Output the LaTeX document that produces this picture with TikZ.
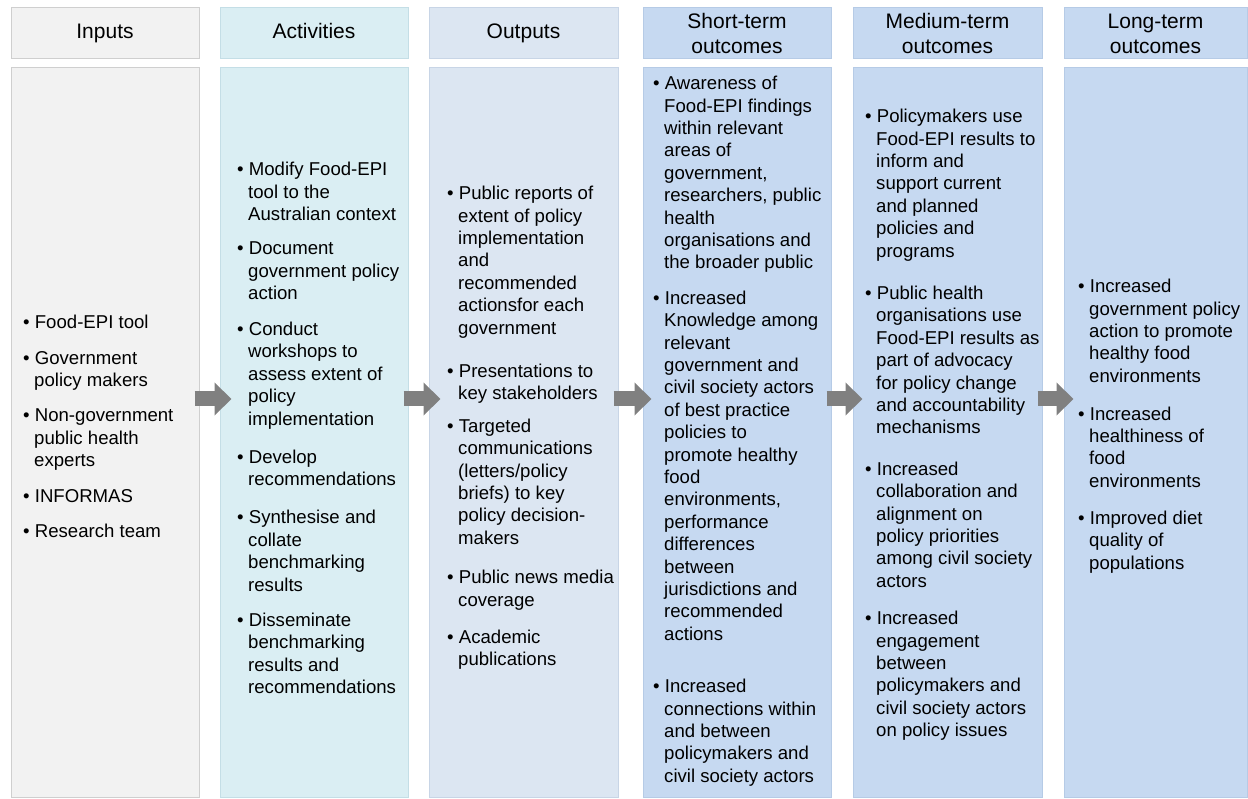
\documentclass[tikz,border=0pt]{standalone}
\usepackage{fontspec}
\setmainfont{Liberation Sans}
\usetikzlibrary{positioning, arrows.meta}

\definecolor{inFill}{HTML}{F2F2F2}
\definecolor{inLine}{HTML}{CFCFCF}
\definecolor{actFill}{HTML}{DAEEF3}
\definecolor{actLine}{HTML}{C4DEE6}
\definecolor{outFill}{HTML}{DCE6F2}
\definecolor{outLine}{HTML}{C8D5E6}
\definecolor{resFill}{HTML}{C6D9F1}
\definecolor{resLine}{HTML}{B6CBE6}
\definecolor{flowGray}{HTML}{808080}

% bullet and hanging indent for the list lines
\newcommand{\bitem}{\textbullet\ }
\newcommand{\bcont}{\hspace*{11pt}}

\begin{document}
\begin{tikzpicture}[x=1pt,y=-1pt,
	hdr/.style={draw, line width=1pt, minimum width=188pt, minimum height=51pt, align=center, inner sep=0pt,
		font=\fontsize{21pt}{25pt}\selectfont},
	panel/.style={draw, line width=1pt, minimum width=188pt, minimum height=729pt, inner sep=0pt},
	txt/.style={anchor=north west, align=left, inner sep=0pt, font=\fontsize{18.6pt}{22.4pt}\selectfont},
	flow/.style={flowGray, line width=15pt, -{Triangle[width=32pt,length=17pt]}}]
	\useasboundingbox (0,0) rectangle (1248,799);

	% column heads
	\node[hdr, fill=inFill,  draw=inLine					] (hIn)		at (105,33.5)	{\strut Inputs};
	\node[hdr, fill=actFill, draw=actLine					] (hAct)	at (314,33.5)	{\strut Activities};
	\node[hdr, fill=outFill, draw=outLine, minimum width=189pt	] (hOut)	at (523.5,33.5)	{\strut Outputs};
	\node[hdr, fill=resFill, draw=resLine					] (hShort)	at (737,33.5)	{Short-term\\outcomes};
	\node[hdr, fill=resFill, draw=resLine, minimum width=189pt	] (hMed)	at (947.5,33.5)	{Medium-term\\outcomes};
	\node[hdr, fill=resFill, draw=resLine, minimum width=183pt	] (hLong)	at (1155.5,33.5)	{Long-term\\outcomes};

	% column bodies
	\node[panel, fill=inFill,  draw=inLine					] (bIn)		at (105,432.5)		{};
	\node[panel, fill=actFill, draw=actLine					] (bAct)	at (314,432.5)		{};
	\node[panel, fill=outFill, draw=outLine, minimum width=189pt	] (bOut)	at (523.5,432.5)	{};
	\node[panel, fill=resFill, draw=resLine					] (bShort)	at (737,432.5)		{};
	\node[panel, fill=resFill, draw=resLine, minimum width=189pt	] (bMed)	at (947.5,432.5)	{};
	\node[panel, fill=resFill, draw=resLine, minimum width=183pt	] (bLong)	at (1155.5,432.5)	{};

	% block arrows from one column to the next
	\draw[flow] ([shift={(-5pt,33.5pt)}]bIn.east)		-- ([shift={(12pt,33.5pt)}]bAct.west);
	\draw[flow] ([shift={(-5pt,33.5pt)}]bAct.east)		-- ([shift={(12pt,33.5pt)}]bOut.west);
	\draw[flow] ([shift={(-5pt,33.5pt)}]bOut.east)		-- ([shift={(9pt,33.5pt)}]bShort.west);
	\draw[flow] ([shift={(-5pt,33.5pt)}]bShort.east)	-- ([shift={(10pt,33.5pt)}]bMed.west);
	\draw[flow] ([shift={(-5pt,33.5pt)}]bMed.east)		-- ([shift={(10pt,33.5pt)}]bLong.west);

	% list texts
	\node[txt] (tIn) at (23,315) {%
		\bitem Food-EPI tool\\[13pt]
		\bitem Government\\ \bcont policy makers\\[13pt]
		\bitem Non-government\\ \bcont public health\\ \bcont experts\\[13pt]
		\bitem INFORMAS\\[13pt]
		\bitem Research team};

	\node[txt] (tAct) at (237,162) {%
		\bitem Modify Food-EPI\\ \bcont tool to the\\ \bcont Australian context\\[12pt]
		\bitem Document\\ \bcont government policy\\ \bcont action\\[13.5pt]
		\bitem Conduct\\ \bcont workshops to\\ \bcont assess extent of\\ \bcont policy\\ \bcont implementation\\[15.5pt]
		\bitem Develop\\ \bcont recommendations\\[16pt]
		\bitem Synthesise and\\ \bcont collate\\ \bcont benchmarking\\ \bcont results\\[13pt]
		\bitem Disseminate\\ \bcont benchmarking\\ \bcont results and\\ \bcont recommendations};

	\node[txt] (tOut) at (447,186) {%
		\bitem Public reports of\\ \bcont extent of policy\\ \bcont implementation\\ \bcont and\\ \bcont recommended\\ \bcont actionsfor each\\ \bcont government\\[21pt]
		\bitem Presentations to\\ \bcont key stakeholders\\[10pt]
		\bitem Targeted\\ \bcont communications\\ \bcont (letters/policy\\ \bcont briefs) to key\\ \bcont policy decision-\\ \bcont makers\\[17pt]
		\bitem Public news media\\ \bcont coverage\\[15pt]
		\bitem Academic\\ \bcont publications};

	\node[txt] (tShort) at (653,76) {%
		\bitem Awareness of\\ \bcont Food-EPI findings\\ \bcont within relevant\\ \bcont areas of\\ \bcont government,\\ \bcont researchers, public\\ \bcont health\\ \bcont organisations and\\ \bcont the broader public\\[13pt]
		\bitem Increased\\ \bcont Knowledge among\\ \bcont relevant\\ \bcont government and\\ \bcont civil society actors\\ \bcont of best practice\\ \bcont policies to\\ \bcont promote healthy\\ \bcont food\\ \bcont environments,\\ \bcont performance\\ \bcont differences\\ \bcont between\\ \bcont jurisdictions and\\ \bcont recommended\\ \bcont actions\\[30pt]
		\bitem Increased\\ \bcont connections within\\ \bcont and between\\ \bcont policymakers and\\ \bcont civil society actors};

	\node[txt] (tMed) at (865,109) {%
		\bitem Policymakers use\\ \bcont Food-EPI results to\\ \bcont inform and\\ \bcont support current\\ \bcont and planned\\ \bcont policies and\\ \bcont programs\\[20pt]
		\bitem Public health\\ \bcont organisations use\\ \bcont Food-EPI results as\\ \bcont part of advocacy\\ \bcont for policy change\\ \bcont and accountability\\ \bcont mechanisms\\[19pt]
		\bitem Increased\\ \bcont collaboration and\\ \bcont alignment on\\ \bcont policy priorities\\ \bcont among civil society\\ \bcont actors\\[15pt]
		\bitem Increased\\ \bcont engagement\\ \bcont between\\ \bcont policymakers and\\ \bcont civil society actors\\ \bcont on policy issues};

	\node[txt] (tLong) at (1078,279) {%
		\bitem Increased\\ \bcont government policy\\ \bcont action to promote\\ \bcont healthy food\\ \bcont environments\\[15.5pt]
		\bitem Increased\\ \bcont healthiness of\\ \bcont food\\ \bcont environments\\[14.5pt]
		\bitem Improved diet\\ \bcont quality of\\ \bcont populations};
\end{tikzpicture}
\end{document}
